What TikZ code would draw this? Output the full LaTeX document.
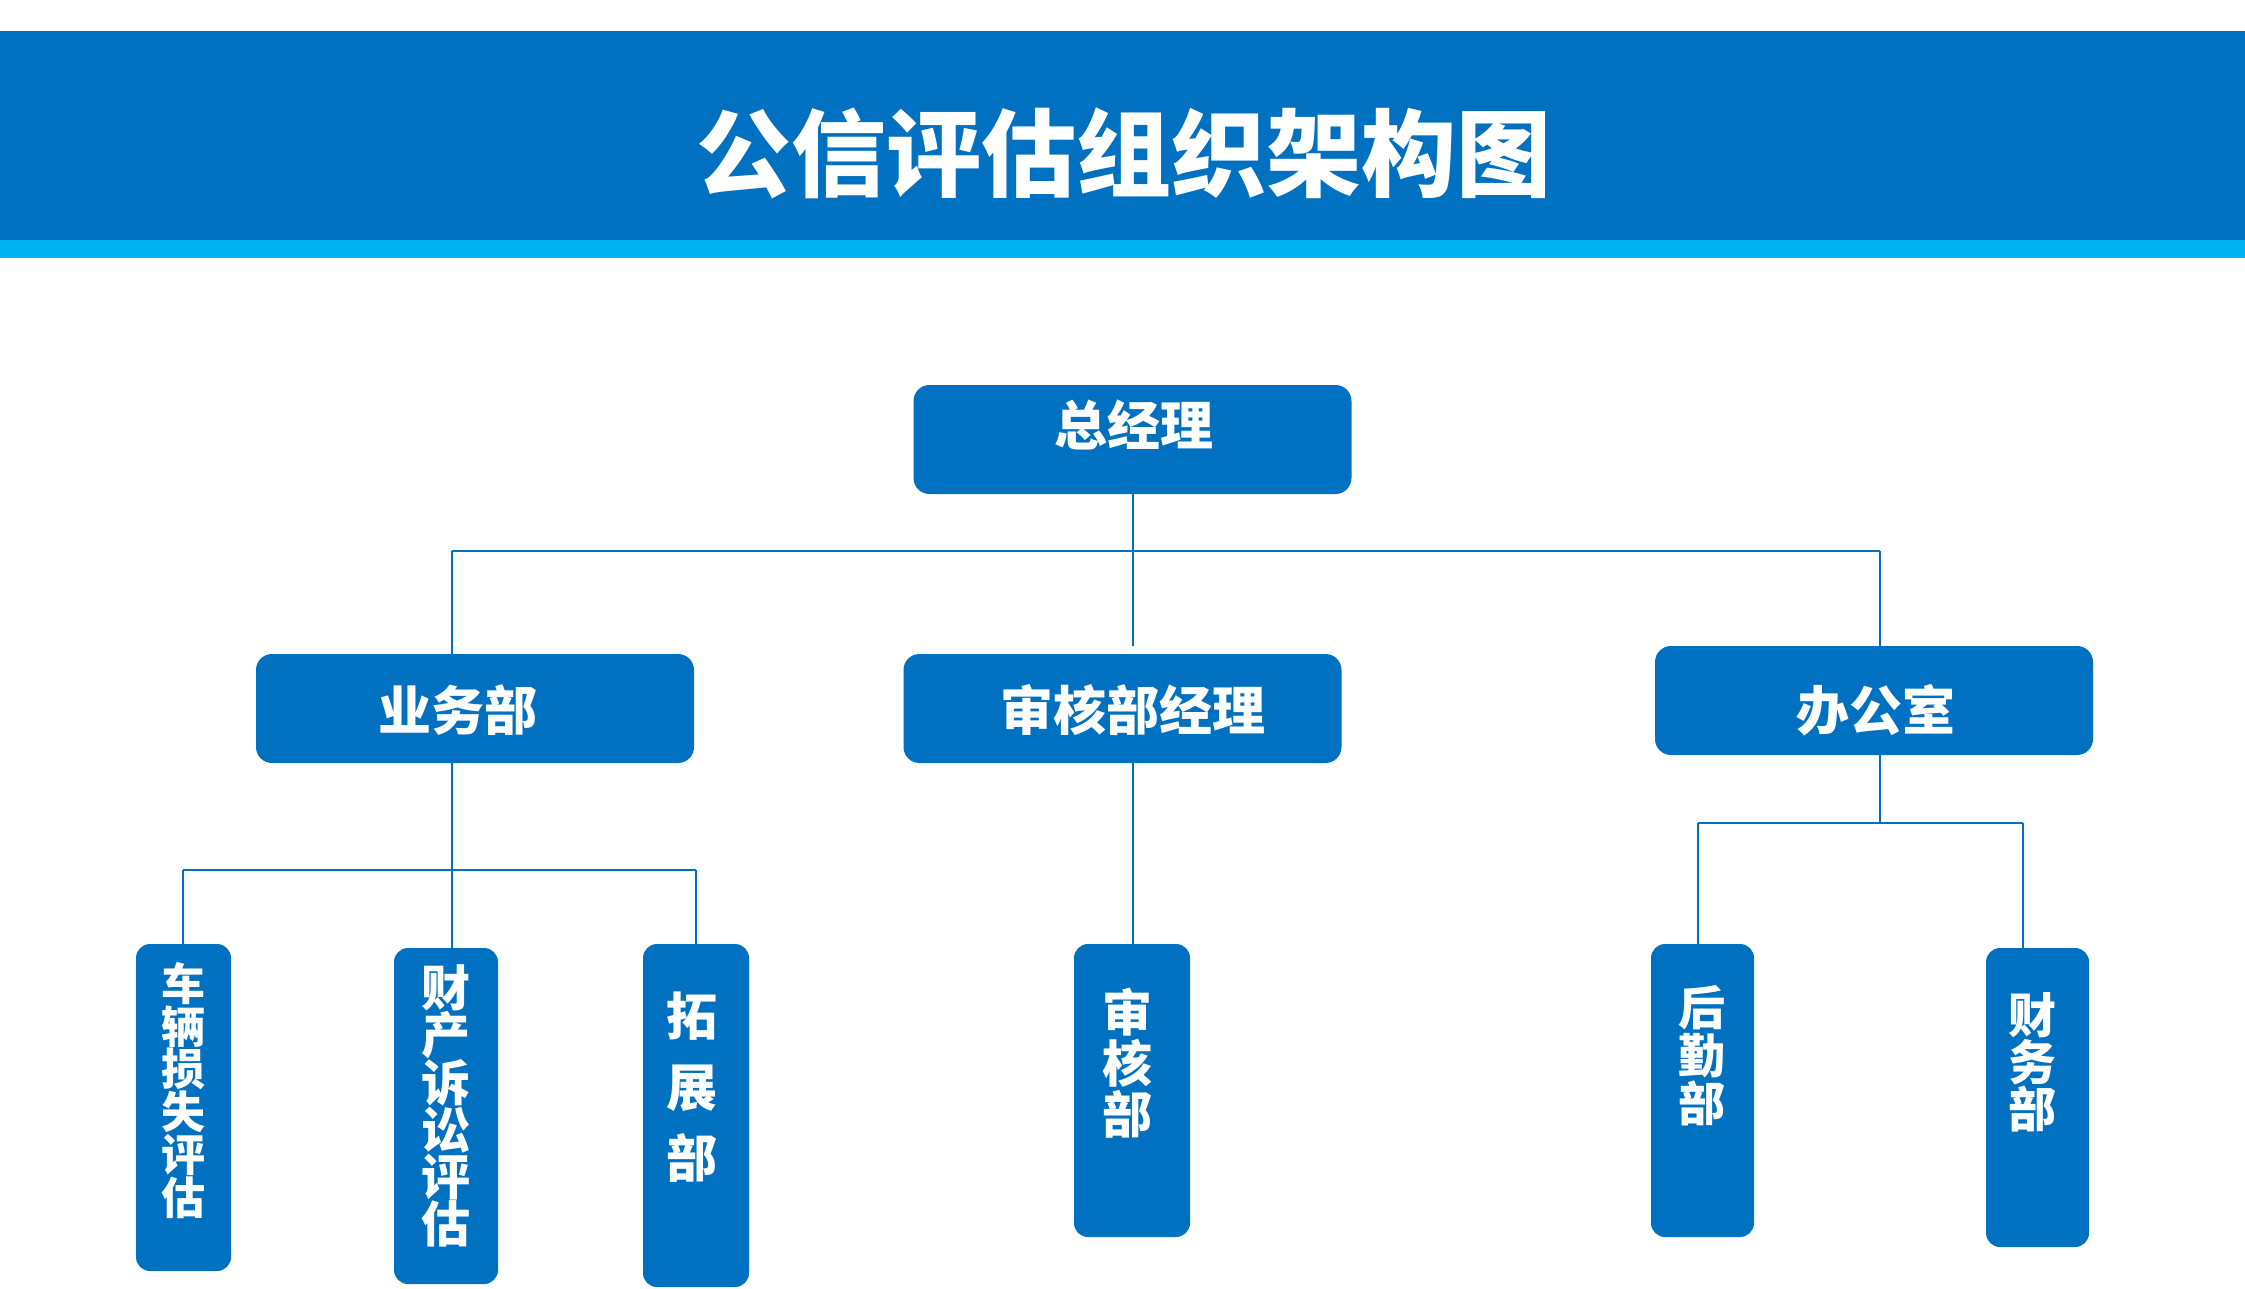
\documentclass[tikz,border=0pt]{standalone}
\usepackage{fontspec}
\newfontfamily\cjk{Noto Sans CJK SC}
\definecolor{dblue}{HTML}{0070C0}
\definecolor{lblue}{HTML}{00B0F0}
\begin{document}
\begin{tikzpicture}[x=1pt,y=-1pt,
  box/.style={fill=dblue, rounded corners=16pt, inner sep=0pt, draw=none},
  hbox/.style={box, minimum width=438pt, minimum height=109pt},
  lbl/.style={text=white, inner sep=0pt, align=center},
  conn/.style={draw=dblue, line width=2.6pt}]
\useasboundingbox (0,0) rectangle (2245,1288);
% title bar
\fill[dblue] (0,31) rectangle (2245,240);
\fill[lblue] (0,240) rectangle (2245,258);
\node[lbl, font=\cjk\bfseries\fontsize{95}{95}\selectfont] (title) at (1124,153) {公信评估组织架构图};
% level boxes
\node[hbox] (gm) at (1132.5,439.5) {};
\node[hbox] (yw) at (475,708.5) {};
\node[hbox] (sh) at (1122.5,708.5) {};
\node[hbox] (bg) at (1874,700.5) {};
\node[lbl, font=\cjk\bfseries\fontsize{53}{53}\selectfont] (tgm) at (1134,425) {总经理};
\node[lbl, font=\cjk\bfseries\fontsize{53}{53}\selectfont] (tyw) at (458,710) {业务部};
\node[lbl, font=\cjk\bfseries\fontsize{53}{53}\selectfont] (tsh) at (1133,710) {审核部经理};
\node[lbl, font=\cjk\bfseries\fontsize{53}{53}\selectfont] (tbg) at (1876,710) {办公室};
% bottom boxes
\node[box, rounded corners=14pt, minimum width=95pt, minimum height=327pt] (c1) at (183.5,1107.5) {};
\node[box, rounded corners=14pt, minimum width=104pt, minimum height=336pt] (c2) at (446,1116) {};
\node[box, rounded corners=14pt, minimum width=106pt, minimum height=343pt] (c3) at (696,1115.5) {};
\node[box, rounded corners=14pt, minimum width=116pt, minimum height=293pt] (c4) at (1132,1090.5) {};
\node[box, rounded corners=14pt, minimum width=103pt, minimum height=293pt] (c5) at (1702.5,1090.5) {};
\node[box, rounded corners=14pt, minimum width=103pt, minimum height=299pt] (c6) at (2037.5,1097.5) {};
\node[lbl, anchor=north, font=\cjk\bfseries\fontsize{44}{41}\selectfont] (t1) at (183.5,962) {车\\辆\\损\\失\\评\\估};
\node[lbl, anchor=north, font=\cjk\bfseries\fontsize{49}{47}\selectfont] (t2) at (446,964) {财\\产\\诉\\讼\\评\\估};
\node[lbl, anchor=north, font=\cjk\bfseries\fontsize{51}{71}\selectfont] (t3) at (692,992) {拓\\展\\部};
\node[lbl, anchor=north, font=\cjk\bfseries\fontsize{50}{51}\selectfont] (t4) at (1127,988) {审\\核\\部};
\node[lbl, anchor=north, font=\cjk\bfseries\fontsize{47}{48}\selectfont] (t5) at (1702,985) {后\\勤\\部};
\node[lbl, anchor=north, font=\cjk\bfseries\fontsize{48}{47}\selectfont] (t6) at (2032,992) {财\\务\\部};
% connectors
\coordinate (j0) at (1133,551);
\coordinate (jl) at (452,551);
\coordinate (jr) at (1880,551);
\coordinate (k0) at (452,870);
\coordinate (kl) at (183,870);
\coordinate (kr) at (696,870);
\coordinate (m0) at (1880,823);
\coordinate (ml) at (1698,823);
\coordinate (mr) at (2023,823);
\draw[conn] (j0 |- gm.south) -- ([yshift=8pt]j0 |- sh.north);
\draw[conn] (jl) -- (jr);
\draw[conn] (jl) -- (jl |- yw.north);
\draw[conn] (jr) -- (jr |- bg.north);
\draw[conn] (jl |- yw.south) -- (jl |- c2.north);
\draw[conn] (kl) -- (kr);
\draw[conn] (kl) -- (kl |- c1.north);
\draw[conn] (kr) -- (kr |- c3.north);
\draw[conn] (j0 |- sh.south) -- (j0 |- c4.north);
\draw[conn] (m0 |- bg.south) -- (m0);
\draw[conn] (ml) -- (mr);
\draw[conn] (ml) -- (ml |- c5.north);
\draw[conn] (mr) -- (mr |- c6.north);
\end{tikzpicture}
\end{document}
